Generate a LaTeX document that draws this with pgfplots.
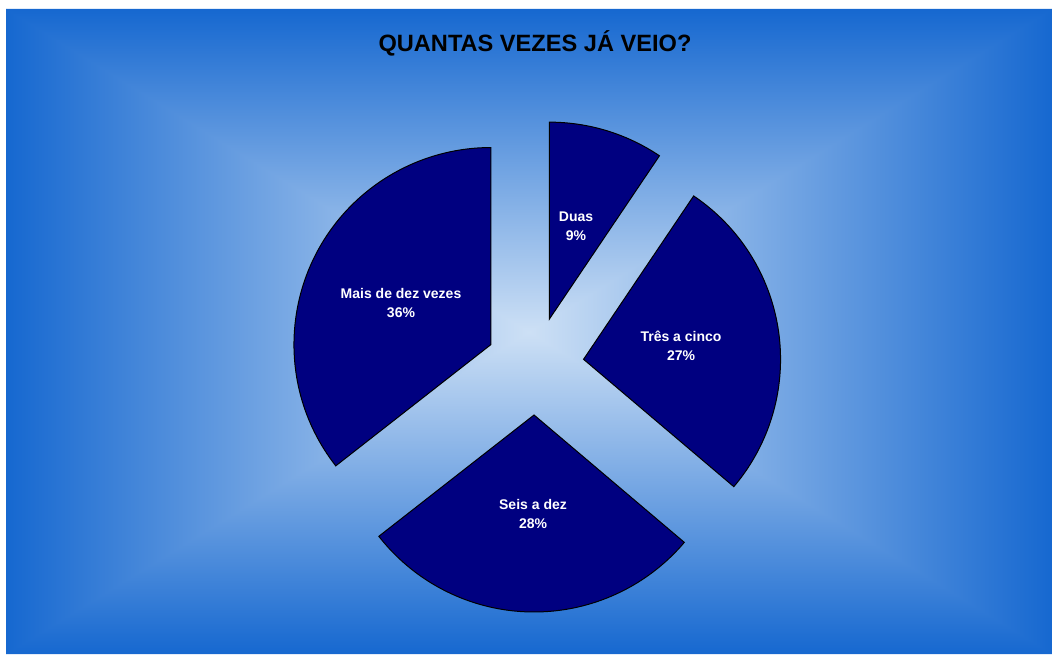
\documentclass[border=0pt]{standalone}
\usepackage{fontspec}
\setmainfont{Liberation Sans}
\usepackage{pgfplots}
\usepackage{pgfplotstable}
\pgfplotsset{compat=1.18}

\definecolor{slicefill}{HTML}{000080}
\definecolor{bgedge}{HTML}{1668D0}
\definecolor{bgcenter}{HTML}{CDE0F5}

% share of each answer (percent), label position in px (y up)
\pgfplotstableread[col sep=comma]{
name,pct,lx,ly
Duas,9.44,576,428
Três a cinco,26.75,681,308
Seis a dez,28.25,533,140
Mais de dez vezes,35.56,401,351
}\piedata

\begin{document}
\begin{tikzpicture}
% start at 12 o'clock and go clockwise
\xdef\angacc{90}
\foreach \i in {0,...,3}{%
  \pgfplotstablegetelem{\i}{pct}\of\piedata
  \edef\curpct{\pgfplotsretval}%
  \pgfmathsetmacro\endang{\angacc-3.6*\curpct}%
  \pgfmathsetmacro\midang{(\angacc+\endang)/2}%
  \pgfmathtruncatemacro\roundpct{round(\curpct)}%
  \expandafter\xdef\csname sa\i\endcsname{\angacc}%
  \expandafter\xdef\csname ea\i\endcsname{\endang}%
  \expandafter\xdef\csname ma\i\endcsname{\midang}%
  \expandafter\xdef\csname pc\i\endcsname{\roundpct}%
  \pgfplotstablegetelem{\i}{name}\of\piedata
  \expandafter\xdef\csname nm\i\endcsname{\pgfplotsretval}%
  \pgfplotstablegetelem{\i}{lx}\of\piedata
  \expandafter\xdef\csname lx\i\endcsname{\pgfplotsretval}%
  \pgfplotstablegetelem{\i}{ly}\of\piedata
  \expandafter\xdef\csname ly\i\endcsname{\pgfplotsretval}%
  \xdef\angacc{\endang}%
}
\begin{axis}[
    hide axis,
    scale only axis,
    width=526pt, height=327pt,
    xmin=0, xmax=1052, ymin=0, ymax=654,
    clip=false,
]
\path (0,0) rectangle (1052,654);
% rectangular gradient background (top/bottom a bit wider to hide seams)
\shade[top color=bgedge, bottom color=bgcenter] (6,645) -- (1052,645) -- (1052,638) -- (535,322) -- (523,322) -- (6,638) -- cycle;
\shade[bottom color=bgedge, top color=bgcenter] (6,0) -- (1052,0) -- (1052,7) -- (535,322) -- (523,322) -- (6,7) -- cycle;
\shade[left color=bgedge, right color=bgcenter] (6,0) -- (6,645) -- (529,322) -- cycle;
\shade[right color=bgedge, left color=bgcenter] (1052,0) -- (1052,645) -- (529,322) -- cycle;

\node[font=\bfseries\fontsize{11.8}{14}\selectfont] at (535,611) {QUANTAS VEZES JÁ VEIO?};

\pgfplotsinvokeforeach{0,...,3}{
  \filldraw[fill=slicefill, draw=black, line width=0.5pt, line join=miter]
    (535,288) ++(\csname ma#1\endcsname:24.5pt) -- ++(\csname sa#1\endcsname:98.5pt)
    arc[start angle=\csname sa#1\endcsname, end angle=\csname ea#1\endcsname, radius=98.5pt] -- cycle;
  \node[text=white, font=\bfseries\fontsize{7}{9.5}\selectfont, align=center]
    at (\csname lx#1\endcsname,\csname ly#1\endcsname) {\csname nm#1\endcsname\\\csname pc#1\endcsname\%};
}
\end{axis}
\end{tikzpicture}
\end{document}
